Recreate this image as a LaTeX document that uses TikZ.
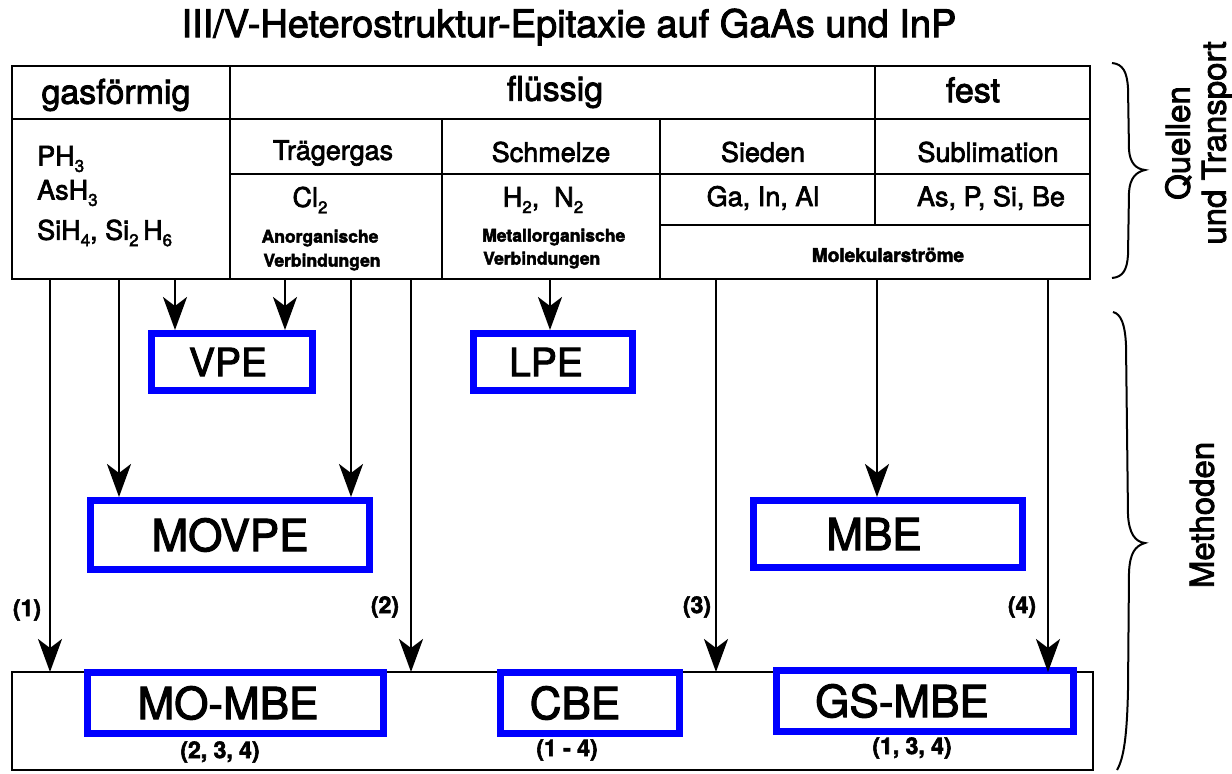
\documentclass[tikz,border=0pt]{standalone}
\usepackage{fontspec}
\setmainfont{TeX Gyre Heros}[FakeBold=2.5]
\usetikzlibrary{arrows.meta}
\newcommand\sbs[1]{\raisebox{-0.45ex}{\fontsize{17}{17}\selectfont #1}}
\definecolor{boxblue}{RGB}{0,0,255}
\begin{document}
\begin{tikzpicture}[x=1pt,y=-1pt,
  tl/.style={line width=2.6pt},
  arr/.style={line width=2.6pt,-{Stealth[length=33pt,width=24pt,inset=9pt]}},
  bbox/.style={draw=boxblue,line width=7pt,inner sep=0pt},
  big/.style={font=\fontsize{44}{44}\selectfont},
  mid/.style={font=\fontsize{39}{39}\selectfont},
  hd/.style={font=\fontsize{34}{34}\selectfont, inner sep=0pt},
  sub/.style={font=\fontsize{27}{27}\selectfont, inner sep=0pt},
  tinyb/.style={font=\fontsize{17.5}{17.5}\selectfont\bfseries, inner sep=0pt},
  num/.style={font=\fontsize{23}{23}\selectfont\bfseries, inner sep=0pt},
  side/.style={font=\fontsize{33}{36}\selectfont, rotate=90, align=center, inner sep=0pt}]
\useasboundingbox (0,0) rectangle (1232,774);

% title
\node[font=\fontsize{38}{38}\selectfont, inner sep=0pt] (title) at (569,27) {III/V-Heterostruktur-Epitaxie auf GaAs und InP};

% table grid
\draw[tl] (12,66) rectangle (1090,279);
\draw[tl] (12,119) -- (1090,119);
\draw[tl] (230,66) -- (230,279);
\draw[tl] (875,66) -- (875,225);
\draw[tl] (442,119) -- (442,279);
\draw[tl] (660,119) -- (660,279);
\draw[tl] (230,174) -- (1090,174);
\draw[tl] (660,225) -- (1090,225);

% table texts
\node[hd] (gas) at (116,95) {gasförmig};
\node[hd] (fl) at (555,92) {flüssig};
\node[hd] (fest) at (973,90) {fest};
\node[sub, anchor=west] (ph3) at (37,159) {PH\sbs{3}};
\node[sub, anchor=west] (ash3) at (37,193) {AsH\sbs{3}};
\node[sub, anchor=west] (sih4) at (37,233) {SiH\sbs{4}, Si\sbs{2}\,H\sbs{6}};
\node[sub] (traeg) at (333,153) {Trägergas};
\node[sub] (cl2) at (310,200) {Cl\sbs{2}};
\node[tinyb] (anorg) at (320,238) {Anorganische};
\node[tinyb] (verb1) at (322,262) {Verbindungen};
\node[sub] (schm) at (551,152) {Schmelze};
\node[sub] (h2n2) at (543,200) {H\sbs{2}, \ N\sbs{2}};
\node[tinyb, anchor=west] (metorg) at (482,237) {Metallorganische};
\node[tinyb, anchor=west] (verb2) at (483,260) {Verbindungen};
\node[sub] (sied) at (763,152) {Sieden};
\node[sub] (gainal) at (763,198) {Ga, In, Al};
\node[sub] (subl) at (988,152) {Sublimation};
\node[sub] (aspsibe) at (991,198) {As, P, Si, Be};
\node[tinyb, font=\fontsize{19}{19}\selectfont\bfseries] (molek) at (888,255) {Molekularströme};

% method boxes
\node[bbox, mid, minimum width=161pt, minimum height=57pt] (vpe) at (232,362) {\hspace*{-8pt}VPE};
\node[bbox, mid, minimum width=159pt, minimum height=57pt] (lpe) at (553,362) {\hspace*{-14pt}LPE};
\node[bbox, big, minimum width=279pt, minimum height=69pt] (movpe) at (230,535) {MOVPE};
\node[bbox, big, minimum width=269pt, minimum height=67pt] (mbe) at (888,534) {\hspace*{-28pt}MBE};

% bottom frame and boxes
\node[draw, tl, minimum width=1081pt, minimum height=98pt, inner sep=0pt, outer sep=0pt] (bot) at (552.5,721) {};
\node[bbox, big, minimum width=296pt, minimum height=61pt] (mombe) at (235.5,703) {\hspace*{-15pt}MO-MBE};
\node[bbox, big, minimum width=179pt, minimum height=61pt] (cbe) at (590,703) {\hspace*{-30pt}CBE};
\node[bbox, big, minimum width=297pt, minimum height=61pt] (gsmbe) at (925,701) {\hspace*{-46pt}GS-MBE};
\node[num] (l234) at (220,752) {(2, 3, 4)};
\node[num] (l14) at (567,750) {(1 - 4)};
\node[num] (l134) at (912,748) {(1, 3, 4)};

% arrow start points
\coordinate (s1) at (50,279);
\coordinate (s2) at (119,279);
\coordinate (s3) at (175,279);
\coordinate (s4) at (285,279);
\coordinate (s5) at (351,279);
\coordinate (s6) at (411,279);
\coordinate (s7) at (550,279);
\coordinate (s8) at (716,279);
\coordinate (s9) at (877,279);
\coordinate (s10) at (1048,279);

\draw[arr] (s1) -- (s1 |- bot.north);
\draw[arr] (s2) -- (s2 |- movpe.north);
\draw[arr] (s3) -- (s3 |- vpe.north);
\draw[arr] (s4) -- (s4 |- vpe.north);
\draw[arr] (s5) -- (s5 |- movpe.north);
\draw[arr] (s6) -- (s6 |- bot.north);
\draw[arr] (s7) -- (s7 |- lpe.north);
\draw[arr] (s8) -- (s8 |- bot.north);
\draw[arr] (s9) -- (s9 |- mbe.north);
\draw[arr] (s10) -- (s10 |- bot.north);

\node[num] (n1) at (27,610) {(1)};
\node[num] (n2) at (385,607) {(2)};
\node[num] (n3) at (697,607) {(3)};
\node[num] (n4) at (1022,607) {(4)};

% braces
\draw[line width=2pt] (1112,63) .. controls (1123,64) and (1127,72) .. (1128,88) -- (1129,150) .. controls (1130,163) and (1136,169) .. (1145,170) .. controls (1136,172) and (1130,178) .. (1129,192) -- (1128,255) .. controls (1127,270) and (1123,277) .. (1112,278);
\draw[line width=2pt] (1113,312) .. controls (1121,314) and (1125,324) .. (1126,345) -- (1128,515) .. controls (1129,533) and (1135,542) .. (1145,543) .. controls (1135,546) and (1130,553) .. (1129,572) -- (1128,690) .. controls (1127,735) and (1124,758) .. (1117,770);
\node[side] (quellen) at (1199,143) {Quellen\\und Transport};
\node[side] (meth) at (1202,515) {Methoden};
\end{tikzpicture}
\end{document}
